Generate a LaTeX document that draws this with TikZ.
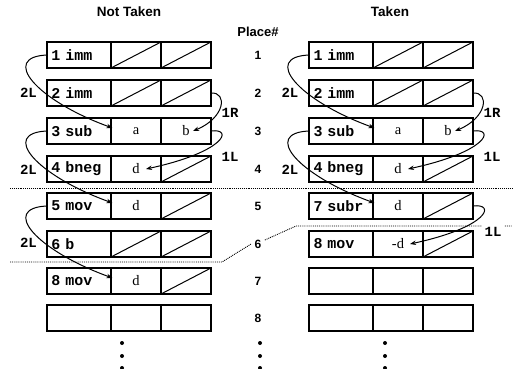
\documentclass[tikz,border=0pt]{standalone}
\usepackage{fontspec}
\setmainfont{Liberation Serif}
\setsansfont{Liberation Sans}
\setmonofont{Liberation Mono}
\usetikzlibrary{arrows.meta}

\tikzset{
  cell/.style={draw, line width=1.3pt, outer sep=0pt, minimum height=26pt, inner sep=0pt},
  opcell/.style={cell, text width=55pt, inner xsep=4.5pt, align=left, font=\ttfamily\bfseries\fontsize{15}{15}\selectfont},
  valcell/.style={cell, minimum width=50pt, font=\fontsize{14.5}{14.5}\selectfont},
  slash/.style={line width=1pt},
  head/.style={font=\sffamily\bfseries\fontsize{13.5}{13.5}\selectfont},
  place/.style={font=\sffamily\bfseries\fontsize{12}{12}\selectfont},
  jlab/.style={font=\ttfamily\bfseries\fontsize{14}{14}\selectfont, inner sep=1pt},
  jump/.style={line width=1pt, -{Stealth[length=6pt,width=4.5pt]}},
  sepline/.style={densely dotted, line width=0.9pt}
}

\begin{document}
\begin{tikzpicture}[x=1pt, y=-1pt]
    \useasboundingbox (0,0) rectangle (515,369);
    \node[head] (nt) at (129,12) {Not Taken};
    \node[head] (tk) at (390,12) {Taken};
    \node[head, font=\sffamily\bfseries\fontsize{13}{13}\selectfont] (pl) at (258,32) {Place\#};
    %
    \foreach \r/\y/\op/\u/\v in {1/42/{1 imm}/{}/{}, 2/80/{2 imm}/{}/{}, 3/118/{3 sub}/a/b, 4/156/{4 bneg}/d/{},
                                 5/193/{5 mov}/d/{}, 6/231/{6 b}/{}/{}, 7/268/{8 mov}/d/{}, 8/305/{}/{}/{}} {
        \node[opcell, anchor=north west] (N\r-1) at (47,\y) {\op};
        \node[valcell, anchor=west] (N\r-2) at (N\r-1.east) {\u};
        \node[valcell, anchor=west] (N\r-3) at (N\r-2.east) {\v};
    }
    %
    \foreach \r/\y/\op/\u/\v in {1/42/{1 imm}/{}/{}, 2/80/{2 imm}/{}/{}, 3/118/{3 sub}/a/b, 4/156/{4 bneg}/d/{},
                                 5/193/{7 subr}/d/{}, 6/231/{8 mov}/-d/{}, 7/268/{}/{}/{}, 8/305/{}/{}/{}} {
        \node[opcell, anchor=north west] (T\r-1) at (309,\y) {\op};
        \node[valcell, anchor=west] (T\r-2) at (T\r-1.east) {\u};
        \node[valcell, anchor=west] (T\r-3) at (T\r-2.east) {\v};
    }
    %
    \foreach \c in {N1-2,N1-3,N2-2,N2-3,N4-3,N5-3,N6-2,N6-3,N7-3,T1-2,T1-3,T2-2,T2-3,T4-3,T5-3,T6-3}
        \draw[slash] (\c.south west) -- (\c.north east);
    %
    \foreach \r/\y in {1/55,2/93,3/131,4/169,5/206,6/244,7/281,8/318}
        \node[place] (P\r) at (258,\y) {\r};
    \foreach \x in {122,260,385}
        \foreach \y in {343,356,368}
            \fill (\x,\y) circle (2);
    %
    \draw[sepline] (10,188) -- (512,188);
    \draw[sepline] (10,262) -- (222,262) -- (P6.west);
    \draw[sepline] ([yshift=4pt]P6.east) -- (296,226) -- (512,226);
    %
    \draw[jump] (N1-1.west) .. controls +(-47,2) and +(-77,-28) .. ([xshift=1.5pt,yshift=3pt]N3-2.west);
    \draw[jump] (N3-1.west) .. controls +(-47,2) and +(-77,-28) .. ([xshift=1.5pt,yshift=3pt]N5-2.west);
    \draw[jump] (N5-1.west) .. controls +(-47,2) and +(-77,-28) .. ([xshift=1.5pt,yshift=3pt]N7-2.west);
    \draw[jump] (N2-3.east) .. controls +(17,-1) and +(32,-13) .. ([xshift=7pt]N3-3.center);
    \draw[jump] (N3-3.east) .. controls +(23,-3) and +(79,-17) .. ([xshift=10pt]N4-2.center);
    %
    \draw[jump] (T1-1.west) .. controls +(-47,2) and +(-77,-28) .. ([xshift=1.5pt,yshift=3pt]T3-2.west);
    \draw[jump] (T3-1.west) .. controls +(-47,2) and +(-77,-28) .. ([xshift=1.5pt,yshift=3pt]T5-2.west);
    \draw[jump] (T2-3.east) .. controls +(17,-1) and +(32,-13) .. ([xshift=7pt]T3-3.center);
    \draw[jump] (T3-3.east) .. controls +(23,-3) and +(79,-17) .. ([xshift=10pt]T4-2.center);
    \draw[jump] (T5-3.east) .. controls +(23,-3) and +(79,-17) .. ([xshift=12pt]T6-2.center);
    %
    \node[jlab] (nl2) at (28.5,93) {2L};
    \node[jlab] (nl4) at (28.5,170) {2L};
    \node[jlab] (nl6) at (28.5,243) {2L};
    \node[jlab] (nr2) at (230,113) {1R};
    \node[jlab] (nr3) at (230,157) {1L};
    \node[jlab] (tl2) at (290,93) {2L};
    \node[jlab] (tl4) at (290,170) {2L};
    \node[jlab] (tr2) at (492,113) {1R};
    \node[jlab] (tr3) at (492,157) {1L};
    \node[jlab, fill=white, inner sep=3pt] (tr5) at (493,232) {1L};
\end{tikzpicture}
\end{document}
